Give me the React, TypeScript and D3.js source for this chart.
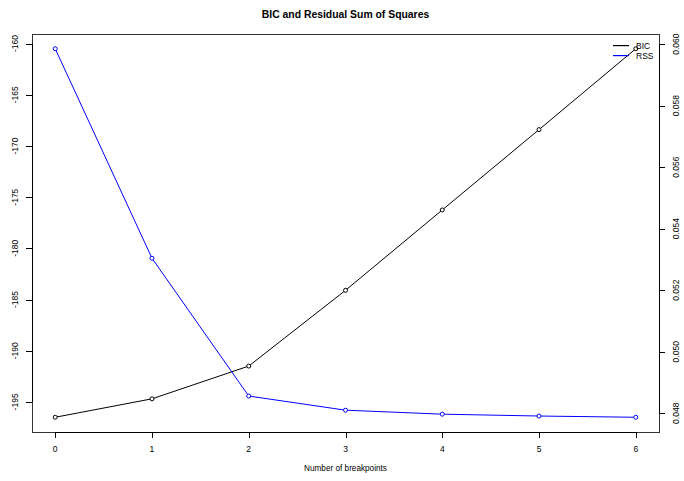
import React from "react";
import * as d3 from "d3";

const breakpoints = [0, 1, 2, 3, 4, 5, 6];
const bicValues = [-196.5, -194.7, -191.5, -184.1, -176.25, -168.4, -160.5];
const rssValues = [0.05985, 0.05304, 0.04856, 0.0481, 0.04797, 0.04791, 0.04787];
const bicTicks = [-195, -190, -185, -180, -175, -170, -165, -160];
const rssTicks = [0.048, 0.05, 0.052, 0.054, 0.056, 0.058, 0.06];
const xTicks = [0, 1, 2, 3, 4, 5, 6];
const seriesNames = ["BIC", "RSS"];
const seriesColors = ["#000000", "#0000ff"];

const W = 684;
const H = 481;
const L = 32;
const R = 659;
const T = 34;
const B = 432;
const FONT = "'Liberation Sans', Arial, sans-serif";

function padded(vals: number[]): [number, number] {
  const mn = d3.min(vals) as number;
  const mx = d3.max(vals) as number;
  const r = mx - mn;
  return [mn - 0.04 * r, mx + 0.04 * r];
}

export default function App() {
  const x = d3.scaleLinear().domain(padded(breakpoints)).range([L, R]);
  const yB = d3.scaleLinear().domain(padded(bicValues)).range([B, T]);
  const yR = d3.scaleLinear().domain(padded(rssValues)).range([B, T]);

  const lineB = d3
    .line<number>()
    .x((_, i) => x(breakpoints[i]))
    .y((d) => yB(d));
  const lineR = d3
    .line<number>()
    .x((_, i) => x(breakpoints[i]))
    .y((d) => yR(d));

  const tickFs = 8.5;

  return (
    <svg
      width={W}
      height={H}
      style={{ position: "absolute", left: 0, top: 0, background: "#fff" }}
      fontFamily={FONT}
    >
      <rect x={0} y={0} width={W} height={H} fill="#fff" />
      <text
        x={(L + R) / 2}
        y={18}
        textAnchor="middle"
        fontWeight="bold"
        fontSize={10.4}
        fill="#000"
      >
        BIC and Residual Sum of Squares
      </text>

      {/* series */}
      <path d={lineB(bicValues) || ""} fill="none" stroke={seriesColors[0]} strokeWidth={1} />
      {bicValues.map((v, i) => (
        <circle key={"b" + i} cx={x(breakpoints[i])} cy={yB(v)} r={2} fill="#fff" stroke={seriesColors[0]} strokeWidth={1} />
      ))}
      <path d={lineR(rssValues) || ""} fill="none" stroke={seriesColors[1]} strokeWidth={1} />
      {rssValues.map((v, i) => (
        <circle key={"r" + i} cx={x(breakpoints[i])} cy={yR(v)} r={2} fill="#fff" stroke={seriesColors[1]} strokeWidth={1} />
      ))}

      {/* box */}
      <rect x={L + 0.5} y={T + 0.5} width={R - L} height={B - T} fill="none" stroke="#333" strokeWidth={1} />

      {/* x axis */}
      <line x1={x(xTicks[0])} x2={x(xTicks[xTicks.length - 1])} y1={B + 0.5} y2={B + 0.5} stroke="#000" />
      {xTicks.map((t) => (
        <g key={"x" + t}>
          <line x1={Math.round(x(t)) + 0.5} x2={Math.round(x(t)) + 0.5} y1={B} y2={B + 6} stroke="#000" />
          <text x={x(t)} y={452} textAnchor="middle" fontSize={tickFs} fill="#000">
            {t}
          </text>
        </g>
      ))}
      <text x={(L + R) / 2} y={471} textAnchor="middle" fontSize={8.2} fill="#000">
        Number of breakpoints
      </text>

      {/* left axis */}
      <line x1={L + 0.5} x2={L + 0.5} y1={yB(bicTicks[0])} y2={yB(bicTicks[bicTicks.length - 1])} stroke="#000" />
      {bicTicks.map((t) => (
        <g key={"l" + t}>
          <line x1={L - 6} x2={L} y1={Math.round(yB(t)) + 0.5} y2={Math.round(yB(t)) + 0.5} stroke="#000" />
          <text
            transform={`translate(18,${yB(t)}) rotate(-90)`}
            textAnchor="middle"
            fontSize={tickFs}
            fill="#000"
          >
            {t}
          </text>
        </g>
      ))}

      {/* right axis */}
      <line x1={R + 0.5} x2={R + 0.5} y1={yR(rssTicks[0])} y2={yR(rssTicks[rssTicks.length - 1])} stroke="#000" />
      {rssTicks.map((t) => (
        <g key={"ra" + t}>
          <line x1={R} x2={R + 6} y1={Math.round(yR(t)) + 0.5} y2={Math.round(yR(t)) + 0.5} stroke="#000" />
          <text
            transform={`translate(679,${yR(t)}) rotate(-90)`}
            textAnchor="middle"
            fontSize={tickFs}
            fill="#000"
          >
            {d3.format(".3f")(t)}
          </text>
        </g>
      ))}

      {/* legend */}
      {seriesNames.map((n, i) => (
        <g key={"lg" + n}>
          <rect x={613} y={45 + i * 10} width={16} height={1.2} fill={seriesColors[i]} />
          <text x={636} y={49 + i * 10} fontSize={8.5} fill="#000">
            {n}
          </text>
        </g>
      ))}
    </svg>
  );
}
